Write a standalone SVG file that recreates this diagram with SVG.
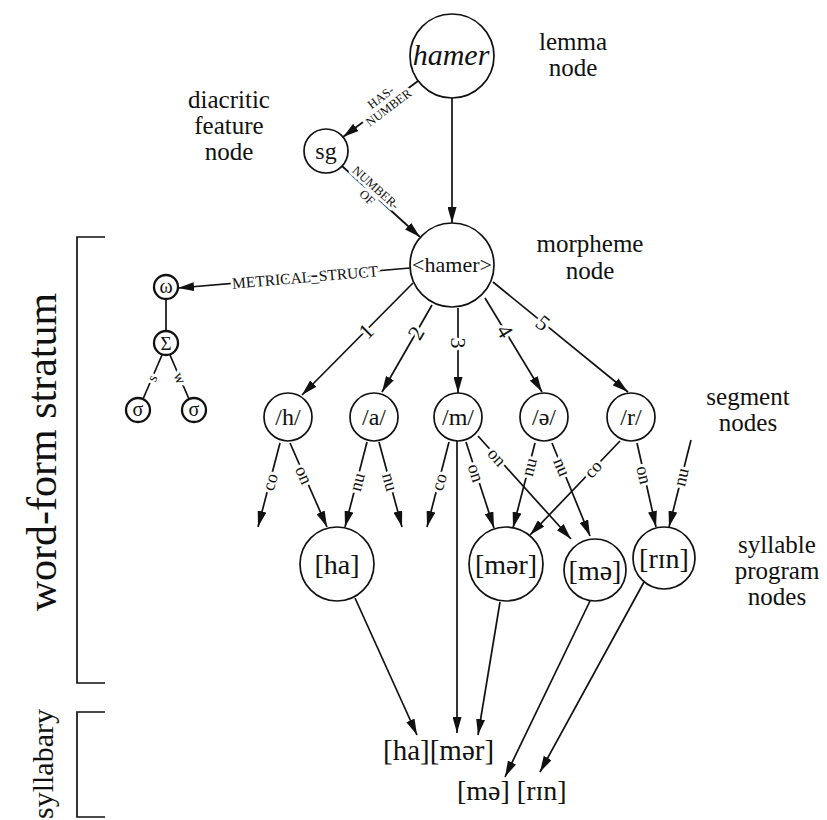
<svg xmlns="http://www.w3.org/2000/svg" width="827" height="820" viewBox="0 0 827 820" font-family="Liberation Serif, serif">
<defs>
  <marker id="ah" viewBox="0 0 16 9" refX="16" refY="4.5" markerWidth="16" markerHeight="9" markerUnits="userSpaceOnUse" orient="auto">
    <path d="M0,0 L16,4.5 L0,9 Z" fill="#111"/>
  </marker>
</defs>
<style>
  text{font-family:'Liberation Serif',serif;fill:#111}
  .n{fill:#fff;stroke:#111;stroke-width:1.7}
  .sm{fill:#fff;stroke:#111;stroke-width:2.3}
  .e{stroke:#111;stroke-width:1.7;fill:none}
  .a{marker-end:url(#ah)}
  .lbl{paint-order:stroke;stroke:#fff;stroke-width:6;stroke-linejoin:round;text-anchor:middle;dominant-baseline:central}
  .rel{font-size:12.5px}
  .num{font-size:22px}
  .ph{font-size:18px}
  .mid{text-anchor:middle}
  .cap{font-size:25px;text-anchor:middle}
</style>
<rect width="827" height="820" fill="#fff"/>

<!-- stratum brackets -->
<g id="brackets">
  <path class="e" d="M105,237 H77 V683 H105"/>
  <path class="e" d="M105,712 H77 V817 H105"/>
  <text transform="translate(56,452) rotate(-90)" class="mid" font-size="42">word-form stratum</text>
  <text transform="translate(53,764) rotate(-90)" class="mid" font-size="30">syllabary</text>
</g>

<!-- connectors -->
<g id="connectors">
  <line class="e a" x1="452" y1="98" x2="452" y2="223"/>
  <line class="e a" x1="418" y1="81" x2="343" y2="137"/>
  <line class="e a" x1="342" y1="166" x2="420" y2="237"/>
  <line class="e a" x1="410" y1="268" x2="178" y2="288"/>
  <line class="e" x1="166" y1="299" x2="166" y2="331"/>
  <line class="e" x1="162" y1="355" x2="143" y2="399"/>
  <line class="e" x1="170" y1="355" x2="189" y2="399"/>
  <!-- morpheme to segments -->
  <line class="e a" x1="413" y1="283" x2="302" y2="395"/>
  <line class="e a" x1="432" y1="305" x2="382" y2="392"/>
  <line class="e a" x1="458" y1="308" x2="458" y2="393"/>
  <line class="e a" x1="485" y1="298" x2="542" y2="392"/>
  <line class="e a" x1="493" y1="282" x2="628" y2="392"/>
  <!-- segments to syllable programs -->
  <line class="e a" x1="280" y1="443" x2="258" y2="527"/>
  <line class="e a" x1="290" y1="443" x2="327" y2="527"/>
  <line class="e a" x1="367" y1="442" x2="345" y2="527"/>
  <line class="e a" x1="379" y1="442" x2="402" y2="527"/>
  <line class="e a" x1="449" y1="442" x2="427" y2="527"/>
  <line class="e a" x1="457" y1="441" x2="457" y2="733"/>
  <line class="e a" x1="466" y1="442" x2="494" y2="528"/>
  <line class="e a" x1="478" y1="436" x2="571" y2="539"/>
  <line class="e a" x1="535" y1="443" x2="513" y2="528"/>
  <line class="e a" x1="552" y1="443" x2="590" y2="536"/>
  <line class="e a" x1="620" y1="441" x2="530" y2="535"/>
  <line class="e a" x1="637" y1="443" x2="656" y2="527"/>
  <line class="e a" x1="691" y1="440" x2="669" y2="527"/>
  <!-- syllable programs to syllabary -->
  <line class="e a" x1="355" y1="598" x2="417" y2="735"/>
  <line class="e a" x1="500" y1="602" x2="478" y2="735"/>
  <line class="e a" x1="590" y1="601" x2="505" y2="777"/>
  <line class="e a" x1="644" y1="582" x2="540" y2="772"/>

  <!-- link labels -->
  <g transform="translate(385,103) rotate(-37)" class="rel">
    <text class="lbl" y="-7">HAS-</text>
    <text class="lbl" y="6">NUMBER</text>
  </g>
  <g transform="translate(371,193) rotate(42)" class="rel">
    <text class="lbl" y="-7">NUMBER-</text>
    <text class="lbl" y="6">OF</text>
  </g>
  <text class="lbl" font-size="15.5" transform="translate(305,277) rotate(-4.9)">METRICAL_STRUCT</text>
  <text class="lbl" font-size="15" transform="translate(152,378) rotate(-67)">s</text>
  <text class="lbl" font-size="15" transform="translate(180,378) rotate(67)">w</text>

  <text class="lbl num" transform="translate(366,331) rotate(-45)">1</text>
  <text class="lbl num" transform="translate(416,333) rotate(-60)">2</text>
  <text class="lbl num" transform="translate(458,343) rotate(90)">3</text>
  <text class="lbl num" transform="translate(505,331) rotate(59)">4</text>
  <text class="lbl num" transform="translate(543,323) rotate(39)">5</text>

  <text class="lbl ph" transform="translate(270,482) rotate(-75)">co</text>
  <text class="lbl ph" transform="translate(304,475) rotate(66)">on</text>
  <text class="lbl ph" transform="translate(357,482) rotate(-75)">nu</text>
  <text class="lbl ph" transform="translate(390,482) rotate(75)">nu</text>
  <text class="lbl ph" transform="translate(439,482) rotate(-75)">co</text>
  <text class="lbl ph" transform="translate(476,473) rotate(72)">on</text>
  <text class="lbl ph" transform="translate(497,457) rotate(48)">on</text>
  <text class="lbl ph" transform="translate(529,467) rotate(-75)">nu</text>
  <text class="lbl ph" transform="translate(562,467) rotate(68)">nu</text>
  <text class="lbl ph" transform="translate(593,469) rotate(-48)">co</text>
  <text class="lbl ph" transform="translate(644,475) rotate(77)">on</text>
  <text class="lbl ph" transform="translate(681,477) rotate(-76)">nu</text>
</g>

<!-- conceptual / lemma level -->
<g id="lemma">
  <circle class="n" cx="452" cy="56" r="42"/>
  <text x="451" y="65" class="mid" font-size="30" font-style="italic">hamer</text>
</g>
<g id="diacritic">
  <circle class="n" cx="326" cy="151" r="22"/>
  <text x="326" y="159" class="mid" font-size="24">sg</text>
</g>
<g id="morpheme">
  <circle class="n" cx="452" cy="265" r="42"/>
  <text x="452" y="272" class="mid" font-size="22">&lt;hamer&gt;</text>
</g>

<!-- metrical structure -->
<g id="omega">
  <circle class="sm" cx="166" cy="287" r="12"/>
  <text x="166" y="293" class="mid" font-size="20">ω</text>
</g>
<g id="foot">
  <circle class="sm" cx="166" cy="343" r="12"/>
  <text x="166" y="350" class="mid" font-size="19">Σ</text>
</g>
<g id="syl-s">
  <circle class="sm" cx="138" cy="410" r="12"/>
  <text x="138" y="416" class="mid" font-size="20">σ</text>
</g>
<g id="syl-w">
  <circle class="sm" cx="194" cy="410" r="12"/>
  <text x="194" y="416" class="mid" font-size="20">σ</text>
</g>

<!-- segment nodes -->
<g id="seg-h">
  <circle class="n" cx="288" cy="417" r="24"/>
  <text x="288" y="425" class="mid" font-size="24">/h/</text>
</g>
<g id="seg-a">
  <circle class="n" cx="374" cy="417" r="24"/>
  <text x="374" y="425" class="mid" font-size="24">/a/</text>
</g>
<g id="seg-m">
  <circle class="n" cx="458" cy="417" r="24"/>
  <text x="458" y="425" class="mid" font-size="24">/m/</text>
</g>
<g id="seg-schwa">
  <circle class="n" cx="544" cy="417" r="24"/>
  <text x="544" y="425" class="mid" font-size="24">/ə/</text>
</g>
<g id="seg-r">
  <circle class="n" cx="631" cy="417" r="24"/>
  <text x="631" y="425" class="mid" font-size="24">/r/</text>
</g>

<!-- syllable program nodes -->
<g id="sp-ha">
  <circle class="n" cx="337" cy="564" r="37"/>
  <text x="337" y="574" class="mid" font-size="28">[ha]</text>
</g>
<g id="sp-mer">
  <circle class="n" cx="506" cy="564" r="37"/>
  <text x="506" y="574" class="mid" font-size="28">[mər]</text>
</g>
<g id="sp-me">
  <circle class="n" cx="595" cy="570" r="31"/>
  <text x="595" y="580" class="mid" font-size="28">[mə]</text>
</g>
<g id="sp-rin">
  <circle class="n" cx="664" cy="558" r="31"/>
  <text x="664" y="568" class="mid" font-size="28">[rɪn]</text>
</g>

<!-- syllabary output -->
<g id="syllabary-out">
  <text x="383" y="760" font-size="29">[ha][mər]</text>
  <text x="457" y="800" font-size="28">[mə] [rɪn]</text>
</g>

<!-- captions -->
<g id="captions">
  <text class="cap" x="573" y="50">lemma</text>
  <text class="cap" x="573" y="76">node</text>
  <text class="cap" x="229" y="108">diacritic</text>
  <text class="cap" x="229" y="134">feature</text>
  <text class="cap" x="229" y="160">node</text>
  <text class="cap" x="590" y="252">morpheme</text>
  <text class="cap" x="590" y="279">node</text>
  <text class="cap" x="748" y="405">segment</text>
  <text class="cap" x="748" y="431">nodes</text>
  <text class="cap" x="777" y="553">syllable</text>
  <text class="cap" x="777" y="579">program</text>
  <text class="cap" x="777" y="605">nodes</text>
</g>
</svg>
